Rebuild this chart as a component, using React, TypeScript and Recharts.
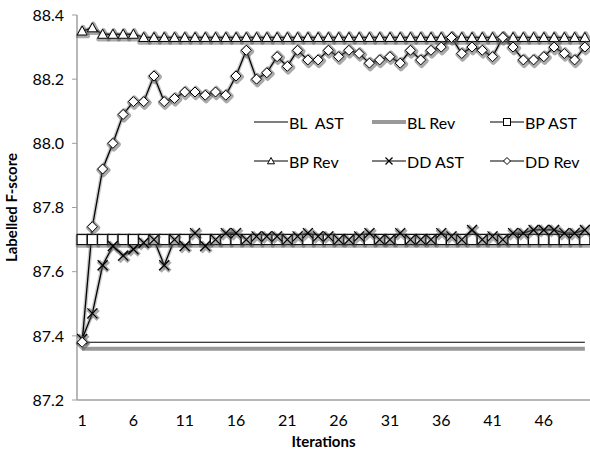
import React from "react";
import { Legend, Line, LineChart, XAxis, YAxis } from "recharts";

const iterations = [
  1, 2, 3, 4, 5, 6, 7, 8, 9, 10, 11, 12, 13, 14, 15, 16, 17, 18, 19, 20, 21, 22, 23, 24, 25,
  26, 27, 28, 29, 30, 31, 32, 33, 34, 35, 36, 37, 38, 39, 40, 41, 42, 43, 44, 45, 46, 47, 48, 49, 50,
];

const blAst = [
  87.38, 87.38, 87.38, 87.38, 87.38, 87.38, 87.38, 87.38, 87.38, 87.38, 87.38, 87.38, 87.38, 87.38, 87.38, 87.38, 87.38,
  87.38, 87.38, 87.38, 87.38, 87.38, 87.38, 87.38, 87.38, 87.38, 87.38, 87.38, 87.38, 87.38, 87.38, 87.38, 87.38, 87.38,
  87.38, 87.38, 87.38, 87.38, 87.38, 87.38, 87.38, 87.38, 87.38, 87.38, 87.38, 87.38, 87.38, 87.38, 87.38, 87.38,
];
const blRev = [
  87.36, 87.36, 87.36, 87.36, 87.36, 87.36, 87.36, 87.36, 87.36, 87.36, 87.36, 87.36, 87.36, 87.36, 87.36, 87.36, 87.36,
  87.36, 87.36, 87.36, 87.36, 87.36, 87.36, 87.36, 87.36, 87.36, 87.36, 87.36, 87.36, 87.36, 87.36, 87.36, 87.36, 87.36,
  87.36, 87.36, 87.36, 87.36, 87.36, 87.36, 87.36, 87.36, 87.36, 87.36, 87.36, 87.36, 87.36, 87.36, 87.36, 87.36,
];
const bpAst = [
  87.7, 87.7, 87.7, 87.7, 87.7, 87.7, 87.7, 87.7, 87.7, 87.7, 87.7, 87.7, 87.7, 87.7, 87.7, 87.7, 87.7,
  87.7, 87.7, 87.7, 87.7, 87.7, 87.7, 87.7, 87.7, 87.7, 87.7, 87.7, 87.7, 87.7, 87.7, 87.7, 87.7, 87.7,
  87.7, 87.7, 87.7, 87.7, 87.7, 87.7, 87.7, 87.7, 87.7, 87.7, 87.7, 87.7, 87.7, 87.7, 87.7, 87.7,
];
const bpRev = [
  88.35, 88.36, 88.34, 88.34, 88.34, 88.34, 88.33, 88.33, 88.33, 88.33, 88.33, 88.33, 88.33, 88.33, 88.33, 88.33, 88.33,
  88.33, 88.33, 88.33, 88.33, 88.33, 88.33, 88.33, 88.33, 88.33, 88.33, 88.33, 88.33, 88.33, 88.33, 88.33, 88.33, 88.33,
  88.33, 88.33, 88.33, 88.33, 88.33, 88.33, 88.33, 88.33, 88.33, 88.33, 88.33, 88.33, 88.33, 88.33, 88.33, 88.33,
];
const ddAst = [
  87.39, 87.47, 87.62, 87.68, 87.65, 87.67, 87.69, 87.7, 87.62, 87.7, 87.68, 87.72, 87.68, 87.7, 87.72, 87.72, 87.7,
  87.71, 87.71, 87.71, 87.7, 87.71, 87.72, 87.71, 87.71, 87.7, 87.7, 87.71, 87.72, 87.7, 87.7, 87.72, 87.7, 87.7,
  87.7, 87.72, 87.71, 87.7, 87.73, 87.7, 87.71, 87.7, 87.72, 87.72, 87.73, 87.73, 87.73, 87.72, 87.72, 87.73,
];
const ddRev = [
  87.38, 87.74, 87.92, 88.0, 88.09, 88.13, 88.13, 88.21, 88.13, 88.14, 88.16, 88.16, 88.15, 88.16, 88.15, 88.21, 88.29,
  88.2, 88.22, 88.27, 88.24, 88.29, 88.26, 88.26, 88.29, 88.27, 88.29, 88.28, 88.25, 88.26, 88.27, 88.25, 88.29, 88.26,
  88.29, 88.3, 88.33, 88.28, 88.3, 88.29, 88.27, 88.33, 88.3, 88.26, 88.26, 88.27, 88.3, 88.28, 88.26, 88.3,
];

const yTicks = [87.2, 87.4, 87.6, 87.8, 88.0, 88.2, 88.4];
const labelTicks = [1, 6, 11, 16, 21, 26, 31, 36, 41, 46];
// excel-style tick marks sit between categories
const boundaryTicks = iterations.map((i) => i - 0.5).concat(50.5);

const data = iterations.map((iter, i) => ({
  iter,
  blAst: blAst[i],
  blRev: blRev[i],
  bpAst: bpAst[i],
  bpRev: bpRev[i],
  ddAst: ddAst[i],
  ddRev: ddRev[i],
}));

const FONT = "Lato, 'Open Sans', sans-serif";
const AXIS = "#a0a0a0";

type Kind = "none" | "square" | "triangle" | "cross" | "diamond";

function shapeProps(kind: Kind, cx: number, cy: number, h: number) {
  if (kind === "square") return { tag: "rect", x: cx - h, y: cy - h, width: 2 * h, height: 2 * h };
  if (kind === "triangle")
    return { tag: "polygon", points: `${cx},${cy - h} ${cx + h},${cy + h * 0.8} ${cx - h},${cy + h * 0.8}` };
  if (kind === "diamond") return { tag: "polygon", points: `${cx},${cy - h} ${cx + h},${cy} ${cx},${cy + h} ${cx - h},${cy}` };
  if (kind === "cross")
    return { tag: "path", d: `M${cx - h},${cy - h}L${cx + h},${cy + h}M${cx + h},${cy - h}L${cx - h},${cy + h}` };
  return null;
}

function Marker({ kind, cx, cy, size, glow }: { kind: Kind; cx: number; cy: number; size: number; glow?: boolean }) {
  const s = shapeProps(kind, cx, cy, size / 2);
  if (!s) return null;
  const { tag, ...geom } = s as any;
  const Tag = tag as any;
  const fill = kind === "cross" ? "none" : "#fff";
  return (
    <g>
      {glow && (
        <Tag
          {...geom}
          transform="translate(0.8,1)"
          fill="none"
          stroke="#555"
          strokeOpacity={0.5}
          strokeWidth={4.5}
          strokeLinejoin="round"
        />
      )}
      <Tag {...geom} fill={fill} stroke="#000" strokeWidth={kind === "cross" ? 1.2 : 1} />
    </g>
  );
}

const dotFor = (kind: Kind, id: string) => (p: any) => (
  <g key={`${id}-${p.index}`}>
    <Marker kind={kind} cx={p.cx} cy={p.cy} size={10} glow />
  </g>
);

const legendItems: { name: string; kind: Kind; color: string; width: number }[] = [
  { name: "BL  AST", kind: "none", color: "#000", width: 1.2 },
  { name: "BL Rev", kind: "none", color: "#999", width: 4 },
  { name: "BP AST", kind: "square", color: "#000", width: 1.2 },
  { name: "BP Rev", kind: "triangle", color: "#000", width: 1.2 },
  { name: "DD AST", kind: "cross", color: "#000", width: 1.2 },
  { name: "DD Rev", kind: "diamond", color: "#000", width: 1.2 },
];

function LegendBox() {
  return (
    <div
      style={{
        display: "grid",
        gridTemplateColumns: "118px 118px 118px",
        rowGap: 19,
        fontFamily: FONT,
        fontSize: 16,
        color: "#000",
      }}
    >
      {legendItems.map((it) => (
        <div key={it.name} style={{ display: "flex", alignItems: "center", height: 20 }}>
          <svg width={34} height={12} style={{ marginRight: 1 }}>
            <line x1={0} x2={34} y1={6} y2={6} stroke={it.color} strokeWidth={it.width} />
            <Marker kind={it.kind} cx={17} cy={6} size={7} />
          </svg>
          <span style={{ whiteSpace: "pre" }}>{it.name}</span>
        </div>
      ))}
    </div>
  );
}

// soft gray halo drawn under each marker series, like the excel shadow effect
const haloKeys = ["bpAst", "bpRev", "ddAst", "ddRev"];

export default function App() {
  return (
    <div style={{ position: "absolute", left: 0, top: 0, background: "#fff" }}>
      <LineChart width={590} height={449} data={data} margin={{ top: 15, right: 0, left: 0, bottom: 0 }}>
        <XAxis
          dataKey="iter"
          type="number"
          domain={[0.5, 50.5]}
          ticks={boundaryTicks}
          interval={0}
          tick={false}
          tickSize={5}
          height={5}
          stroke={AXIS}
          axisLine={{ stroke: AXIS, strokeWidth: 1.5 }}
          tickLine={{ stroke: AXIS }}
        />
        <XAxis
          xAxisId="labels"
          dataKey="iter"
          type="number"
          domain={[0.5, 50.5]}
          ticks={labelTicks}
          interval={0}
          axisLine={false}
          tickLine={false}
          tickSize={8}
          tickMargin={2}
          height={44}
          tick={{ fill: "#000", fontSize: 16, fontFamily: FONT }}
          label={{
            value: "Iterations",
            position: "insideBottom",
            offset: 2,
            dx: -10,
            style: { fontFamily: FONT, fontSize: 15, fontWeight: 700, fill: "#000" },
          }}
        />
        <YAxis
          domain={[87.2, 88.4]}
          ticks={yTicks}
          interval={0}
          width={77}
          tickSize={5}
          tickMargin={8}
          axisLine={{ stroke: AXIS, strokeWidth: 1.5 }}
          tickLine={{ stroke: AXIS }}
          tick={{ fill: "#000", fontSize: 16, fontFamily: FONT }}
          tickFormatter={(v: number) => v.toFixed(1)}
          label={{
            value: "Labelled F-score",
            angle: -90,
            position: "insideLeft",
            offset: 22,
            dx: -10,
            style: { textAnchor: "middle", fontFamily: FONT, fontSize: 15, fontWeight: 700, fill: "#000" },
          }}
        />
        <Legend
          verticalAlign="middle"
          align="center"
          layout="horizontal"
          wrapperStyle={{ left: 254, top: 112, width: 360, height: 60 }}
          content={() => <LegendBox />}
        />
        <Line dataKey="blRev" stroke="#999" strokeWidth={4} dot={false} isAnimationActive={false} legendType="none" />
        <Line dataKey="blAst" stroke="#000" strokeWidth={1.2} dot={false} isAnimationActive={false} />
        {haloKeys.map((k) => (
          <Line
            key={`halo-${k}`}
            dataKey={k}
            stroke="#666"
            strokeOpacity={0.35}
            strokeWidth={4}
            dot={false}
            activeDot={false}
            isAnimationActive={false}
            legendType="none"
          />
        ))}
        <Line
          dataKey="bpAst"
          stroke="#000"
          strokeWidth={1.3}
          dot={dotFor("square", "bpa")}
          isAnimationActive={false}
        />
        <Line
          dataKey="bpRev"
          stroke="#000"
          strokeWidth={1.3}
          dot={dotFor("triangle", "bpr")}
          isAnimationActive={false}
        />
        <Line
          dataKey="ddAst"
          stroke="#000"
          strokeWidth={1.3}
          dot={dotFor("cross", "dda")}
          isAnimationActive={false}
        />
        <Line
          dataKey="ddRev"
          stroke="#000"
          strokeWidth={1.3}
          dot={dotFor("diamond", "ddr")}
          isAnimationActive={false}
        />
      </LineChart>
    </div>
  );
}
